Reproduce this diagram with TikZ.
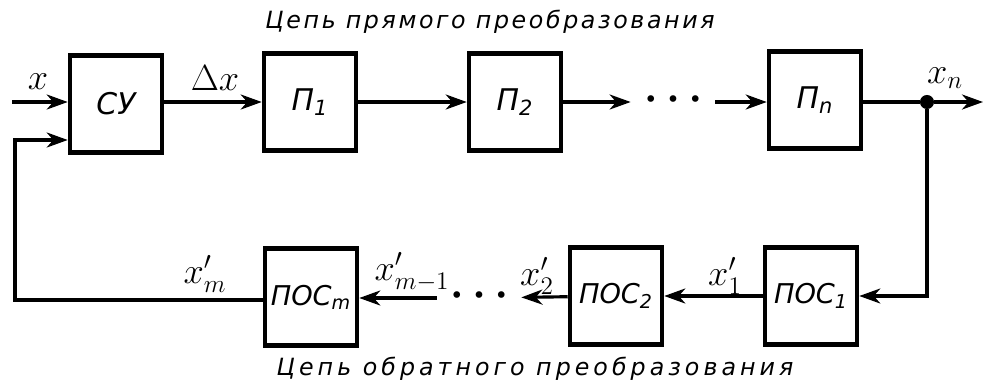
\documentclass[tikz,border=0pt]{standalone}
\usepackage{fontspec}
\setmainfont{DejaVu Sans}
\usetikzlibrary{arrows.meta}
\begin{document}
\begin{tikzpicture}[x=0.02cm,y=-0.02cm,
  blok/.style={draw,line width=2.6pt,minimum width=1.84cm,minimum height=1.94cm,inner sep=0pt,font=\fontsize{17}{20}\selectfont\itshape},
  posblok/.style={blok,font=\fontsize{15.5}{18}\selectfont\itshape},
  strelka/.style={line width=1.8pt,-{Stealth[length=4.2mm,width=3mm,inset=1.3mm]}},
  liniya/.style={line width=1.8pt},
  metka/.style={font=\fontsize{20}{22}\selectfont},
  tochki/.style={inner xsep=2.6mm,inner ysep=0pt,font=\fontsize{13}{13}\selectfont},
  tsep/.style={font=\fontsize{13.5}{15}\selectfont\itshape\addfontfeatures{LetterSpace=#1}}]
\useasboundingbox (0,0) rectangle (983,386);

\coordinate (vx) at (12,102);
\coordinate (vyh) at (983,102);
\coordinate (obr) at (15,140);

\node[blok] (su) at (116,104) {СУ};
\node[blok] (p1) at (310,102) {П\textsubscript{1}};
\node[blok] (p2) at (515,102) {П\textsubscript{2}};
\node[tochki] (t1) at (673,102) {\textbullet\hspace{5pt}\textbullet\hspace{5pt}\textbullet};
\node[blok] (pn) at (815,100) {П\textsubscript{n}};
\node[circle,fill,inner sep=0pt,minimum size=8pt] (uzel) at (927,102) {};

\node[posblok] (pos1) at (811,296) {ПОС\textsubscript{1}};
\node[posblok] (pos2) at (616,296) {ПОС\textsubscript{2}};
\node[tochki] (t2) at (479,298) {\textbullet\hspace{5pt}\textbullet\hspace{5pt}\textbullet};
\node[posblok] (posm) at (311,297) {ПОС\textsubscript{m}};

\node[metka] (lx) at (38,82) {$x$};
\node[metka] (ldx) at (215,78) {$\Delta x$};
\node[metka] (lxn) at (945,78) {$x_n$};
\node[metka] (lxm) at (205,274) {$x'_m$};
\node[metka] (lxm1) at (412,272) {$x'_{m-1}$};
\node[metka] (lx2) at (537,276) {$x'_2$};
\node[metka] (lx1) at (725,276) {$x'_1$};

\node[tsep=11] (pryam) at (490,22) {Цепь прямого преобразования};
\node[tsep=17] (obrat) at (535,369) {Цепь обратного преобразования};

\draw[strelka] (vx) -- (vx -| su.west);
\draw[strelka] (su.east |- vx) -- (p1.west);
\draw[strelka] (p1) -- (p2);
\draw[strelka] (p2) -- (t1);
\draw[strelka] (t1) -- (t1 -| pn.west);
\draw[liniya] (pn.east |- uzel) -- (uzel);
\draw[strelka] (uzel) -- (vyh);
\draw[strelka] (uzel) |- (pos1.east);
\draw[strelka] (pos1) -- (pos2);
\draw[strelka] (pos2) -- (t2);
\draw[strelka] (t2) -- (t2 -| posm.east);
\draw[strelka] (posm.west |- 0,300) -| (obr) -- (obr -| su.west);
\end{tikzpicture}
\end{document}
